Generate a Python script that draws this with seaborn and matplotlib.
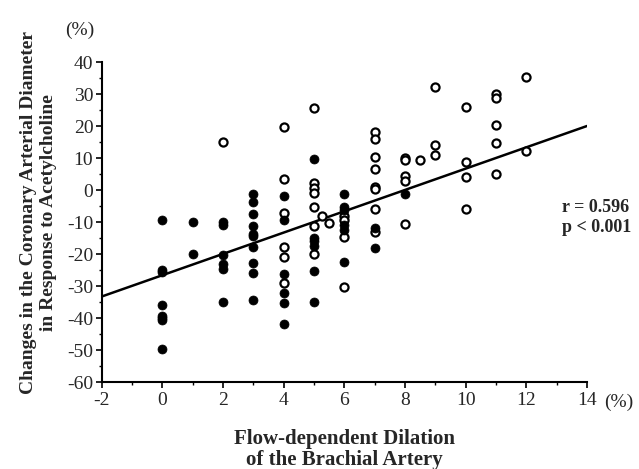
import numpy as np
import pandas as pd
import matplotlib
matplotlib.use('Agg')
import matplotlib.pyplot as plt
from matplotlib.ticker import MultipleLocator
import seaborn as sns

# filled circles
filled_x = [0, 0, 0, 0, 0, 0, 0, 0,
            1, 1,
            2, 2, 2, 2, 2, 2,
            3, 3, 3, 3, 3, 3, 3, 3, 3, 3,
            4, 4, 4, 4, 4, 4,
            5, 5, 5, 5, 5, 5,
            6, 6, 6, 6, 6, 6,
            7, 7,
            8]
filled_y = [-9.5, -25, -25.7, -36, -39.4, -40.1, -40.6, -49.7,
            -10, -20,
            -10, -10.8, -20.2, -23, -24.6, -35,
            -1.3, -3.9, -7.6, -11.1, -13.6, -14.4, -17.7, -22.9, -25.8, -34.4,
            -1.9, -9.3, -26.2, -32.3, -35.4, -42,
            9.6, -15.1, -15.9, -17.5, -25.2, -34.9,
            -1.3, -5.2, -6.2, -11, -12.5, -22.5,
            -12, -18.2,
            -1.3]

# open circles
open_x = [2,
          4, 4, 4, 4, 4, 4,
          5, 5, 5, 5, 5, 5, 5,
          5.25, 5.5,
          6, 6, 6, 6,
          7, 7, 7, 7, 7, 7, 7, 7,
          8, 8, 8, 8, 8,
          8.5,
          9, 9, 9,
          10, 10, 10, 10,
          11, 11, 11, 11, 11,
          12, 12]
open_y = [15,
          19.6, 3.3, -7.3, -17.7, -21, -29.2,
          25.5, 2.3, 0.5, -0.9, -5.2, -11.3, -20,
          -8.1, -10.2,
          -8, -9.4, -14.6, -30.4,
          18.2, 15.8, 10.4, 6.7, 1.0, 0.3, -6, -13,
          9.9, 9.4, 4.5, 2.8, -10.7,
          9.4,
          32.1, 14.1, 11,
          26, 8.8, 4, -6,
          30, 28.8, 20.2, 14.8, 5,
          35.4, 12.2]

# regression line ends
line_x = [-2, 14]
line_y = [-33.3, 20.0]

filled = pd.DataFrame({'fdd': filled_x, 'change': filled_y})
hollow = pd.DataFrame({'fdd': open_x, 'change': open_y})
fit = pd.DataFrame({'fdd': line_x, 'change': line_y})

sns.set_style('ticks')
plt.rcParams['font.family'] = ['Liberation Serif', 'DejaVu Serif']
plt.rcParams['axes.unicode_minus'] = False

fig, ax = plt.subplots(figsize=(6.39, 4.69), dpi=100)
fig.subplots_adjust(left=0.159, right=0.9186, top=0.8678, bottom=0.1855)

sns.lineplot(data=fit, x='fdd', y='change', color='black', linewidth=1.8, ax=ax)
sns.scatterplot(data=hollow, x='fdd', y='change', s=34, facecolor='white',
                edgecolor='black', linewidth=1.6, ax=ax, zorder=3)
sns.scatterplot(data=filled, x='fdd', y='change', s=42, color='black',
                edgecolor='black', linewidth=0.5, ax=ax, zorder=4)

ax.set_xlim(-2, 14)
ax.set_ylim(-60, 40)
ax.xaxis.set_major_locator(MultipleLocator(2))
ax.xaxis.set_minor_locator(MultipleLocator(1))
ax.yaxis.set_major_locator(MultipleLocator(10))
ax.yaxis.set_minor_locator(MultipleLocator(5))
ax.tick_params(which='major', length=4, width=1.2, labelsize=14, color='black')
ax.tick_params(axis='y', which='major', pad=2)
ax.tick_params(which='minor', length=2.5, width=1.0, color='black')
sns.despine(ax=ax)
for sp in ['left', 'bottom']:
    ax.spines[sp].set_linewidth(1.5)
    ax.spines[sp].set_color('black')

ax.set_xlabel('Flow-dependent Dilation\nof the Brachial Artery', fontsize=15,
              fontweight='bold', labelpad=14, linespacing=1.1)
ax.set_ylabel('Changes in the Coronary Arterial Diameter\nin Response to Acetylcholine',
              fontsize=14, fontweight='bold', labelpad=7, linespacing=1.25)
ax.yaxis.label.set_y(0.53)

fig.text(0.125, 0.936, '(%)', fontsize=14, ha='center', va='center')
fig.text(0.968, 0.143, '(%)', fontsize=14, ha='center', va='center')
fig.text(0.879, 0.557, 'r = 0.596', fontsize=13, fontweight='bold', ha='left', va='center')
fig.text(0.879, 0.515, 'p < 0.001', fontsize=13, fontweight='bold', ha='left', va='center')

fig.savefig('out.png', dpi=100)
